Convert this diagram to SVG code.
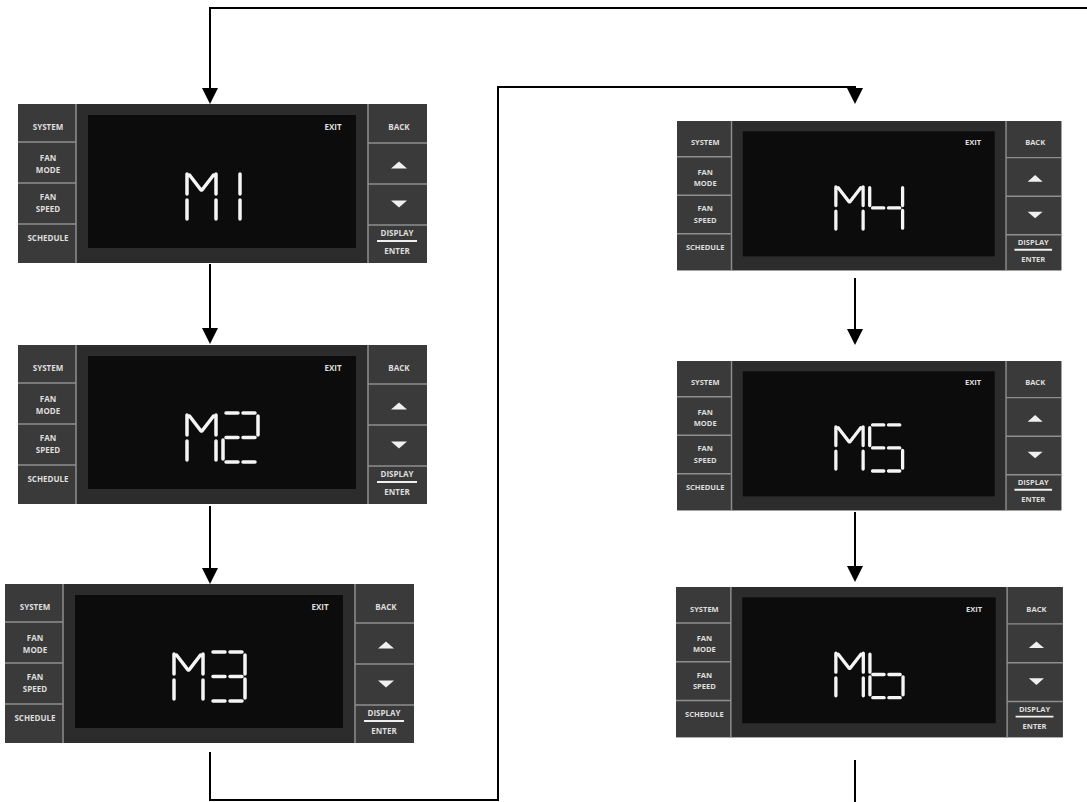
<svg xmlns="http://www.w3.org/2000/svg" width="1087" height="802" viewBox="0 0 1087 802">
<style>
.col{fill:#3a3a3a}
.body{fill:#2c2c2c}
.screen{fill:#0c0c0c}
.sep{stroke:#8e8e8e;stroke-width:1.5;fill:none}
.tri{fill:#f0f0f0}
.uline{stroke:#f0f0f0;stroke-width:2;fill:none}
.lbl{font-family:"Open Sans","DejaVu Sans",sans-serif;font-weight:700;font-size:8px;fill:#dedede;text-anchor:middle}
.seg{stroke:#f5f5f5;stroke-width:3.5;stroke-linecap:round;fill:none}
.conn{stroke:#000;stroke-width:2;fill:none}
.arr{marker-end:url(#ah)}
</style>
<defs>
<marker id="ah" markerUnits="userSpaceOnUse" markerWidth="18" markerHeight="18" refX="14" refY="8" orient="auto"><path d="M0 0L16 8L0 16Z" fill="#000"/></marker>
</defs>
<g id="connectors">
<path class="conn arr" d="M1087 8H210V102"/>
<path class="conn arr" d="M210 264V342"/>
<path class="conn arr" d="M210 506V582"/>
<path class="conn arr" d="M210 752V800H498V87H855V102"/>
<path class="conn arr" d="M855 278V343"/>
<path class="conn arr" d="M855 512V580"/>
<path class="conn" d="M855 760V802"/>
</g>
<g id="m1" transform="translate(18,104)">
<rect class="col" x="0" y="0" width="58" height="159"/><rect class="body" x="58" y="0" width="292" height="159"/><rect class="col" x="350" y="0" width="59" height="159"/><rect class="screen" x="70" y="11" width="268" height="133"/>
<path class="sep" d="M0 38H58M0 79H58M0 120H58M350 39H409M350 80H409M350 121H409M58 0V159M350 0V159"/>
<path class="tri" d="M373 64.5L381 57.5L389 64.5Z"/><path class="tri" d="M373 96.5L389 96.5L381 103.5Z"/><path class="uline" d="M359 137H399"/>
<text class="lbl" x="30" y="26">SYSTEM</text><text class="lbl" x="30" y="57">FAN</text><text class="lbl" x="30" y="69">MODE</text><text class="lbl" x="30" y="96">FAN</text><text class="lbl" x="30" y="108">SPEED</text><text class="lbl" x="30" y="137">SCHEDULE</text><text class="lbl" x="381" y="26">BACK</text><text class="lbl" x="379" y="132">DISPLAY</text><text class="lbl" x="379" y="150">ENTER</text><text class="lbl" x="315" y="26">EXIT</text>
<path class="seg" d="M169 70V90M169 96V115M198 70V90M198 96V115M171.5 71L183 86M195.5 71L184 86"/>
<path class="seg" d="M222 70V90M222 96V115"/>
</g>
<g id="m2" transform="translate(18,345)">
<rect class="col" x="0" y="0" width="58" height="159"/><rect class="body" x="58" y="0" width="292" height="159"/><rect class="col" x="350" y="0" width="59" height="159"/><rect class="screen" x="70" y="11" width="268" height="133"/>
<path class="sep" d="M0 38H58M0 79H58M0 120H58M350 39H409M350 80H409M350 121H409M58 0V159M350 0V159"/>
<path class="tri" d="M373 64.5L381 57.5L389 64.5Z"/><path class="tri" d="M373 96.5L389 96.5L381 103.5Z"/><path class="uline" d="M359 137H399"/>
<text class="lbl" x="30" y="26">SYSTEM</text><text class="lbl" x="30" y="57">FAN</text><text class="lbl" x="30" y="69">MODE</text><text class="lbl" x="30" y="96">FAN</text><text class="lbl" x="30" y="108">SPEED</text><text class="lbl" x="30" y="137">SCHEDULE</text><text class="lbl" x="381" y="26">BACK</text><text class="lbl" x="379" y="132">DISPLAY</text><text class="lbl" x="379" y="150">ENTER</text><text class="lbl" x="315" y="26">EXIT</text>
<path class="seg" d="M169 70V90M169 96V115M198 70V90M198 96V115M171.5 71L183 86M195.5 71L184 86"/>
<path class="seg" d="M208 68H220M225 68H237M240 71V90M208 92.5H220M225 92.5H237M205 95V114M208 117H220M225 117H237"/>
</g>
<g id="m3" transform="translate(5,584)">
<rect class="col" x="0" y="0" width="58" height="159"/><rect class="body" x="58" y="0" width="292" height="159"/><rect class="col" x="350" y="0" width="59" height="159"/><rect class="screen" x="70" y="11" width="268" height="133"/>
<path class="sep" d="M0 38H58M0 79H58M0 120H58M350 39H409M350 80H409M350 121H409M58 0V159M350 0V159"/>
<path class="tri" d="M373 64.5L381 57.5L389 64.5Z"/><path class="tri" d="M373 96.5L389 96.5L381 103.5Z"/><path class="uline" d="M359 137H399"/>
<text class="lbl" x="30" y="26">SYSTEM</text><text class="lbl" x="30" y="57">FAN</text><text class="lbl" x="30" y="69">MODE</text><text class="lbl" x="30" y="96">FAN</text><text class="lbl" x="30" y="108">SPEED</text><text class="lbl" x="30" y="137">SCHEDULE</text><text class="lbl" x="381" y="26">BACK</text><text class="lbl" x="379" y="132">DISPLAY</text><text class="lbl" x="379" y="150">ENTER</text><text class="lbl" x="315" y="26">EXIT</text>
<path class="seg" d="M169 70V90M169 96V115M198 70V90M198 96V115M171.5 71L183 86M195.5 71L184 86"/>
<path class="seg" d="M208 68H220M225 68H237M240 71V90M208 92.5H220M225 92.5H237M240 95V114M208 117H220M225 117H237"/>
</g>
<g id="m4" transform="translate(677,121) scale(0.94)">
<rect class="col" x="0" y="0" width="58" height="159"/><rect class="body" x="58" y="0" width="292" height="159"/><rect class="col" x="350" y="0" width="59" height="159"/><rect class="screen" x="70" y="11" width="268" height="133"/>
<path class="sep" d="M0 38H58M0 79H58M0 120H58M350 39H409M350 80H409M350 121H409M58 0V159M350 0V159"/>
<path class="tri" d="M373 64.5L381 57.5L389 64.5Z"/><path class="tri" d="M373 96.5L389 96.5L381 103.5Z"/><path class="uline" d="M359 137H399"/>
<text class="lbl" x="30" y="26">SYSTEM</text><text class="lbl" x="30" y="57">FAN</text><text class="lbl" x="30" y="69">MODE</text><text class="lbl" x="30" y="96">FAN</text><text class="lbl" x="30" y="108">SPEED</text><text class="lbl" x="30" y="137">SCHEDULE</text><text class="lbl" x="381" y="26">BACK</text><text class="lbl" x="379" y="132">DISPLAY</text><text class="lbl" x="379" y="150">ENTER</text><text class="lbl" x="315" y="26">EXIT</text>
<path class="seg" d="M169 70V90M169 96V115M198 70V90M198 96V115M171.5 71L183 86M195.5 71L184 86"/>
<path class="seg" d="M205 71V90M240 71V90M208 92.5H220M225 92.5H237M240 95V114"/>
</g>
<g id="m5" transform="translate(677,361) scale(0.94)">
<rect class="col" x="0" y="0" width="58" height="159"/><rect class="body" x="58" y="0" width="292" height="159"/><rect class="col" x="350" y="0" width="59" height="159"/><rect class="screen" x="70" y="11" width="268" height="133"/>
<path class="sep" d="M0 38H58M0 79H58M0 120H58M350 39H409M350 80H409M350 121H409M58 0V159M350 0V159"/>
<path class="tri" d="M373 64.5L381 57.5L389 64.5Z"/><path class="tri" d="M373 96.5L389 96.5L381 103.5Z"/><path class="uline" d="M359 137H399"/>
<text class="lbl" x="30" y="26">SYSTEM</text><text class="lbl" x="30" y="57">FAN</text><text class="lbl" x="30" y="69">MODE</text><text class="lbl" x="30" y="96">FAN</text><text class="lbl" x="30" y="108">SPEED</text><text class="lbl" x="30" y="137">SCHEDULE</text><text class="lbl" x="381" y="26">BACK</text><text class="lbl" x="379" y="132">DISPLAY</text><text class="lbl" x="379" y="150">ENTER</text><text class="lbl" x="315" y="26">EXIT</text>
<path class="seg" d="M169 70V90M169 96V115M198 70V90M198 96V115M171.5 71L183 86M195.5 71L184 86"/>
<path class="seg" d="M208 68H220M225 68H237M205 71V90M208 92.5H220M225 92.5H237M240 95V114M208 117H220M225 117H237"/>
</g>
<g id="m6" transform="translate(676,587) scale(0.946)">
<rect class="col" x="0" y="0" width="58" height="159"/><rect class="body" x="58" y="0" width="292" height="159"/><rect class="col" x="350" y="0" width="59" height="159"/><rect class="screen" x="70" y="11" width="268" height="133"/>
<path class="sep" d="M0 38H58M0 79H58M0 120H58M350 39H409M350 80H409M350 121H409M58 0V159M350 0V159"/>
<path class="tri" d="M373 64.5L381 57.5L389 64.5Z"/><path class="tri" d="M373 96.5L389 96.5L381 103.5Z"/><path class="uline" d="M359 137H399"/>
<text class="lbl" x="30" y="26">SYSTEM</text><text class="lbl" x="30" y="57">FAN</text><text class="lbl" x="30" y="69">MODE</text><text class="lbl" x="30" y="96">FAN</text><text class="lbl" x="30" y="108">SPEED</text><text class="lbl" x="30" y="137">SCHEDULE</text><text class="lbl" x="381" y="26">BACK</text><text class="lbl" x="379" y="132">DISPLAY</text><text class="lbl" x="379" y="150">ENTER</text><text class="lbl" x="315" y="26">EXIT</text>
<path class="seg" d="M169 70V90M169 96V115M198 70V90M198 96V115M171.5 71L183 86M195.5 71L184 86"/>
<path class="seg" d="M205 71V90M205 95V114M208 92.5H220M225 92.5H237M240 95V114M208 117H220M225 117H237"/>
</g>
</svg>
